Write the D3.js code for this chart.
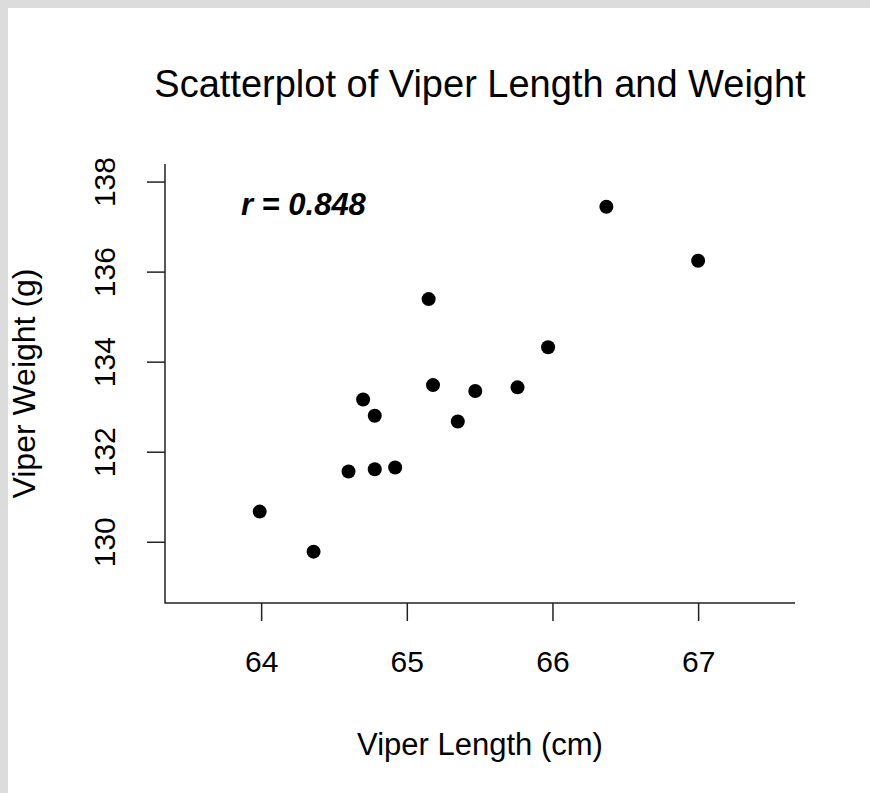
<!DOCTYPE html>
<html>
<head>
<meta charset="utf-8">
<script src="https://cdn.jsdelivr.net/npm/d3@7"></script>
<style>
  html, body { margin: 0; padding: 0; background: #dcdcdc; }
  svg { display: block; }
  text { font-family: "Liberation Sans", Arial, sans-serif; fill: #000; }
</style>
</head>
<body>
<svg id="chart"></svg>
<script>
const width = 870;
const height = 793;

const lengthCm = [63.99, 64.36, 64.60, 64.70, 64.78, 64.78, 64.92, 65.15, 65.18, 65.35, 65.47, 65.76, 65.97, 66.37, 67.00];
const weightG  = [130.67, 129.78, 131.56, 133.16, 132.80, 131.61, 131.65, 135.39, 133.48, 132.67, 133.35, 133.43, 134.32, 137.44, 136.24];
const xTicks = [64, 65, 66, 67];
const yTicks = [130, 132, 134, 136, 138];
const rLabel = 'r = 0.848';

const data = lengthCm.map((d, i) => ({ x: d, y: weightG[i] }));

const svg = d3.select('#chart')
    .attr('width', width)
    .attr('height', height);

// white panel, grey frame on top/left
svg.append('rect')
    .attr('x', 8).attr('y', 8)
    .attr('width', width - 8).attr('height', height - 8)
    .attr('fill', '#fff');

const plot = { left: 165, right: 795, top: 164, bottom: 603 };

const x = d3.scaleLinear()
    .domain([63.34, 67.665])
    .range([plot.left, plot.right]);
const y = d3.scaleLinear()
    .domain([128.64, 138.39])
    .range([plot.bottom, plot.top]);

// axes, R style (L-shaped box)
const xAxis = svg.append('g')
    .attr('transform', `translate(0, ${plot.bottom})`)
    .call(d3.axisBottom(x).tickValues(xTicks).tickSize(18).tickFormat(d3.format('d')));
const yAxis = svg.append('g')
    .attr('transform', `translate(${plot.left}, 0)`)
    .call(d3.axisLeft(y).tickValues(yTicks).tickSize(18).tickFormat(d3.format('d')));

[xAxis, yAxis].forEach(g => {
    g.select('.domain').remove();
    g.selectAll('.tick line').attr('stroke', '#222').attr('stroke-width', 1.5);
    g.selectAll('.tick text').style('font-size', '30px').attr('fill', '#000');
});

xAxis.selectAll('.tick text')
    .attr('y', 69)
    .attr('dy', null);
yAxis.selectAll('.tick text')
    .attr('x', null)
    .attr('dy', null)
    .attr('text-anchor', 'middle')
    .attr('transform', 'translate(-50, 0) rotate(-90)');

// the L frame
svg.append('path')
    .attr('d', `M${plot.left},${plot.top}V${plot.bottom}H${plot.right}`)
    .attr('fill', 'none')
    .attr('stroke', '#222')
    .attr('stroke-width', 1.5);

svg.append('g')
    .selectAll('circle')
    .data(data)
    .enter().append('circle')
    .attr('cx', d => x(d.x))
    .attr('cy', d => y(d.y))
    .attr('r', 7)
    .attr('fill', '#000');

svg.append('text')
    .attr('x', x(64.29))
    .attr('y', y(137.5))
    .attr('dy', '0.35em')
    .attr('text-anchor', 'middle')
    .style('font-size', '31px')
    .style('font-weight', 'bold')
    .style('font-style', 'italic')
    .text(rLabel);

svg.append('text')
    .attr('x', (plot.left + plot.right) / 2)
    .attr('y', 97)
    .attr('text-anchor', 'middle')
    .style('font-size', '38px')
    .text('Scatterplot of Viper Length and Weight');

svg.append('text')
    .attr('x', (plot.left + plot.right) / 2)
    .attr('y', 755)
    .attr('text-anchor', 'middle')
    .style('font-size', '31px')
    .text('Viper Length (cm)');

svg.append('text')
    .attr('transform', `translate(35, ${(plot.top + plot.bottom) / 2}) rotate(-90)`)
    .attr('text-anchor', 'middle')
    .style('font-size', '32px')
    .text('Viper Weight (g)');
</script>
</body>
</html>
